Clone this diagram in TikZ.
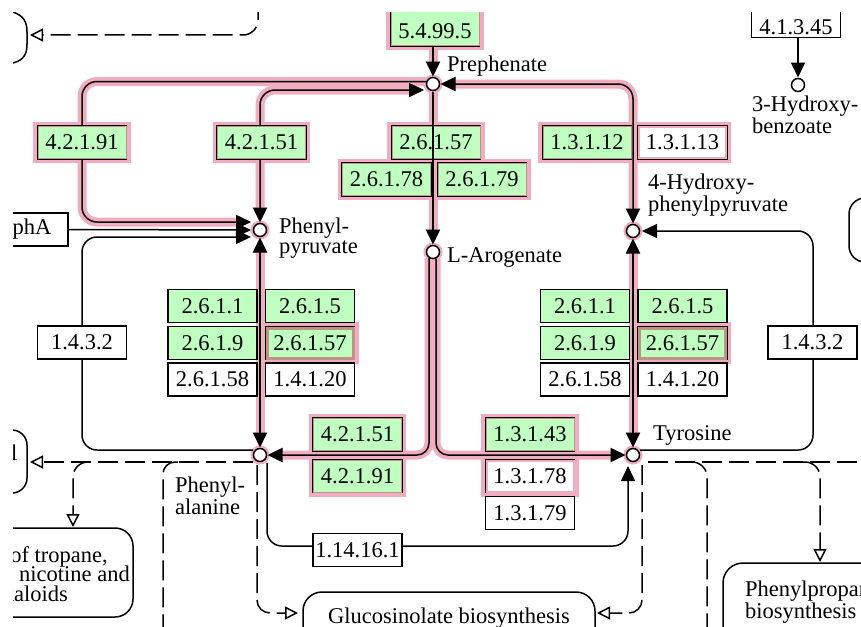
\documentclass[tikz,border=0pt]{standalone}
\usepackage{fontspec}
\setmainfont{Liberation Serif}
\usetikzlibrary{arrows.meta,calc}
\pgfdeclarelayer{bg}
\pgfsetlayers{bg,main}
\definecolor{kgreen}{RGB}{191,255,191}
\definecolor{pinkh}{RGB}{242,172,192}
\definecolor{tanb}{RGB}{190,148,132}
\newcommand\cliparea{\clip (13,13) rectangle (861,626);}
\newcommand\hlp[2][]{\begin{pgfonlayer}{bg}\cliparea\draw[hl,#1] #2;\end{pgfonlayer}\draw[ln,#1] #2;}
\newcommand\boxhalo[1]{\begin{pgfonlayer}{bg}\cliparea\draw[pinkh,line width=7pt] (#1.south west) rectangle (#1.north east);\end{pgfonlayer}}
\newcommand\innerb[3]{\draw[#1,line width=#2pt] ($(#3.south west)+(#2/2+0.75,-#2/2-0.75)$) rectangle ($(#3.north east)+(-#2/2-0.75,#2/2+0.75)$);}
\begin{document}
\begin{tikzpicture}[x=1pt,y=-1pt,
  every node/.style={font=\fontsize{22.5}{20}\selectfont},
  ln/.style={line width=1.5pt,black},
  hl/.style={line width=9pt,pinkh},
  tip/.style={-{Triangle[length=15pt,width=14pt]}},
  bi/.style={{Triangle[length=15pt,width=14pt]}-{Triangle[length=15pt,width=14pt]}},
  otip/.style={-{Triangle[open,length=13pt,width=13pt,fill=white]}},
  dsh/.style={line width=1.5pt,dash pattern=on 20pt off 7pt},
  ebox/.style={draw,line width=1.5pt,minimum width=89pt,minimum height=33pt,inner sep=0pt,fill=white},
  gbox/.style={ebox,fill=kgreen},
  met/.style={circle,draw,line width=1.5pt,fill=white,minimum size=13pt,inner sep=0pt},
  hmet/.style={met,preaction={draw=pinkh,line width=6pt}},
  lbl/.style={align=left,inner sep=0pt},
]
\useasboundingbox (0,0) rectangle (861,626);
\cliparea
% compounds
\node[hmet] (preph) at (433,84) {};
\node[hmet] (pp) at (260,230) {};
\node[hmet] (arog) at (433,252) {};
\node[hmet] (hpp) at (633,231) {};
\node[hmet] (phe) at (260,455) {};
\node[hmet] (tyr) at (633,455) {};
\node[met] (hbz) at (798,85) {};
% boxes referenced by connectors
\node[ebox] (phabox) at (23.5,229.5) {\hspace*{17pt}phA};
\node[ebox] (e41345) at (796,21) {\raisebox{-6pt}[\height][\depth]{4.1.3.45}};
% highlighted reactions
\hlp[tip]{($(preph)+(0,-50)$) -- ($(preph)+(0,-7.5)$)}
\hlp[tip,rounded corners=15pt]{($(preph)+(-6,-2.5)$) -- (82,81.5) -- (82,222) -- ($(pp)+(-9,-8)$)}
\hlp[bi,rounded corners=15pt]{($(preph)+(-9,6)$) -- (260,90) -- ($(pp)+(0,-7.5)$)}
\hlp[bi,rounded corners=15pt]{($(preph)+(7.5,0)$) -- (633,84) -- ($(hpp)+(0,-7.5)$)}
\hlp[tip]{($(preph)+(0,7.5)$) -- ($(arog)+(0,-7.5)$)}
\hlp[bi]{($(pp)+(0,7.5)$) -- ($(phe)+(0,-7.5)$)}
\hlp[bi]{($(hpp)+(0,7.5)$) -- ($(tyr)+(0,-7.5)$)}
\hlp[tip,rounded corners=12pt]{($(arog)+(-4,6)$) -- (429,455) -- ($(phe)+(7.5,0)$)}
\hlp[tip,rounded corners=12pt]{($(arog)+(3,6.5)$) -- (436,455) -- ($(tyr)+(-7.5,0)$)}
% plain reactions
\draw[ln,tip] (phabox.east) -- ($(pp)+(-9,0)$);
\draw[ln,tip,rounded corners=15pt] ($(phe)+(-7,-5)$) -- (82,450) -- (82,237) -- ($(pp)+(-9,7)$);
\draw[ln,tip,rounded corners=15pt] ($(tyr)+(7,-5)$) -- (813,450) -- (813,231) -- ($(hpp)+(9,0)$);
\draw[ln,tip,rounded corners=15pt] ($(phe)+(7,8)$) -- (267,546) -- (628,546) -- ($(tyr)+(-5,11)$);
\draw[ln,tip] (hbz|-e41345.south) -- ($(hbz)+(0,-7.5)$);
% map links
\draw[dsh,otip] ($(phe)+(-7,7)$) -- (30,462);
\draw[dsh,otip,rounded corners=15pt] (90,462) -- (73,462) -- (73,527);
\draw[dsh,rounded corners=12pt] (178,462) -- (163,462) -- (163,640);
\draw[dsh,otip,rounded corners=13pt] ($(phe)+(-3,10)$) -- (257,613) -- (298,613);
\draw[dsh,otip,rounded corners=13pt] ($(tyr)+(9,10)$) -- (642,613) -- (597,613);
\draw[dsh] ($(tyr)+(15,7)$) -- (870,462);
\draw[dsh,rounded corners=15pt] (690,462) -- (707,462) -- (707,640);
\draw[dsh,otip,rounded corners=15pt] (803,462) -- (820,462) -- (820,562);
\draw[dsh,otip,rounded corners=15pt] (258,0) -- (258,35) -- (30,35);
% map boxes
\draw[ln] (13,12) .. controls (24,16) and (27,22) .. (27,32) -- (27,44) .. controls (27,54) and (24,60) .. (13,63);
\draw[ln,rounded corners=15pt] (-20,430) rectangle (27,493);
\draw[ln,rounded corners=16pt] (849,198) rectangle (900,262);
\draw[ln,rounded corners=18pt] (-20,528) rectangle (133,617);
\draw[ln,rounded corners=19pt] (303,592) rectangle (595,680);
\draw[ln,rounded corners=20pt] (723,563) rectangle (960,680);
% enzyme boxes
\node[gbox,minimum height=36pt] (e54995) at (435,28) {\raisebox{-3pt}[\height][\depth]{5.4.99.5}};
\node[gbox] (e42191a) at (82,142.5) {4.2.1.91};
\node[gbox] (e42151a) at (261.5,142.5) {4.2.1.51};
\node[gbox] (e26157c) at (436,142.5) {2.6.1.57};
\node[gbox] (e26178) at (386.5,179.5) {2.6.1.78};
\node[gbox] (e26179) at (482,179.5) {2.6.1.79};
\node[gbox] (e13112) at (587,142.5) {1.3.1.12};
\node[ebox] (e13113) at (682.5,142.5) {1.3.1.13};
\node[gbox] (l2611) at (212.5,306) {2.6.1.1};
\node[gbox] (l2615) at (310,306) {2.6.1.5};
\node[gbox] (l2619) at (212.5,343) {2.6.1.9};
\node[gbox] (l26157) at (310,343) {2.6.1.57};
\node[ebox] (l26158) at (212.5,379.5) {2.6.1.58};
\node[ebox] (l14120) at (310,379.5) {1.4.1.20};
\node[gbox] (r2611) at (585,306) {2.6.1.1};
\node[gbox] (r2615) at (682.5,306) {2.6.1.5};
\node[gbox] (r2619) at (585,343) {2.6.1.9};
\node[gbox] (r26157) at (682.5,343) {2.6.1.57};
\node[ebox] (r26158) at (585,379.5) {2.6.1.58};
\node[ebox] (r14120) at (682.5,379.5) {1.4.1.20};
\node[ebox] (l1432) at (82,342.5) {1.4.3.2};
\node[ebox] (r1432) at (812.5,342.5) {1.4.3.2};
\node[gbox] (e42151b) at (357.5,434.5) {4.2.1.51};
\node[gbox] (e42191b) at (357.5,476) {4.2.1.91};
\node[gbox] (e13143) at (530,434.5) {1.3.1.43};
\node[ebox] (e13178) at (530,476) {1.3.1.78};
\node[ebox] (e13179) at (530,513) {1.3.1.79};
\node[ebox] (e1141611) at (357.5,550) {1.14.16.1};
\foreach \n in {e54995,e42191a,e42151a,e26157c,e26178,e26179,e13112,e13113,l26157,r26157,e42151b,e42191b,e13143,e13178} {\boxhalo{\n}}
\foreach \n in {e54995,e42191a,e42151a,e26157c,e26178,e26179,e13112,e42151b,e42191b,e13143} {\innerb{tanb}{1}{\n}}
\innerb{tanb}{3}{l26157}
\innerb{tanb}{3}{r26157}
\innerb{pinkh}{2}{e13113}
\innerb{pinkh}{2}{e13178}
\draw[ln] (e26157c.north -| preph) -- (e26157c.south -| preph);
% labels
\node[lbl,anchor=base west] (tpreph) at (447,71) {Prephenate};
\node[lbl,anchor=north west] (tpp) at (279,217.5) {Phenyl-\\pyruvate};
\node[lbl,anchor=base west] (tarog) at (447,262) {L-Arogenate};
\node[lbl,anchor=north west] (thpp) at (648,174) {4-Hydroxy-\\phenylpyruvate};
\node[lbl,anchor=base west] (ttyr) at (653,440) {Tyrosine};
\node[lbl,anchor=north west] (tphe) at (175,477) {Phenyl-\\alanine};
\node[lbl,anchor=north west] (thbz) at (752,96) {3-Hydroxy-\\benzoate};
\node[lbl,anchor=base east] (tmapl) at (17.5,460) {l};
\node[lbl,anchor=base east] (ttro1) at (108,562) {of tropane,};
\node[lbl,anchor=base east] (ttro2) at (130,581) {nicotine and};
\node[lbl,anchor=base east] (ttro3) at (68,601) {alkaloids};
\node[lbl,anchor=base] (tgluc) at (449,623) {Glucosinolate biosynthesis};
\node[lbl,anchor=north west] (tphpr) at (745,581) {Phenylpropanoid\\biosynthesis};
\end{tikzpicture}
\end{document}
